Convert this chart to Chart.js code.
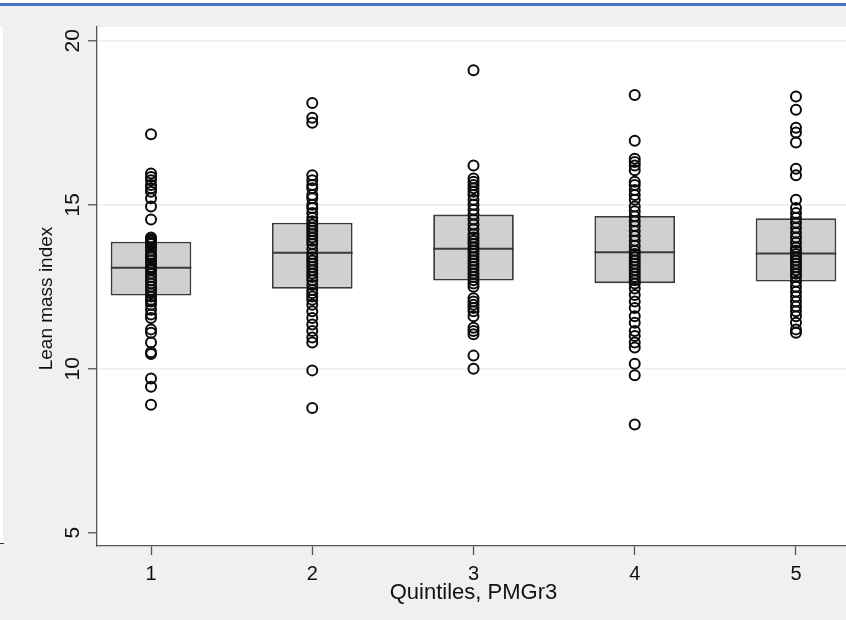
<!DOCTYPE html>
<html><head><meta charset="utf-8">
<script src="https://cdn.jsdelivr.net/npm/chart.js@4.4.1/dist/chart.umd.min.js"></script>
<style>
html,body{margin:0;padding:0;width:846px;height:620px;overflow:hidden;background:#f0f0f0;}
#topwhite{position:absolute;left:0;top:0;width:846px;height:3px;background:#fff;}
#topblue{position:absolute;left:0;top:3px;width:846px;height:3px;background:#4472c4;}
#leftstrip{position:absolute;left:0;top:27px;width:3px;height:516px;background:#fff;}
#lefttick{position:absolute;left:0;top:543px;width:4px;height:1px;background:#333;}
#wrap{position:absolute;left:0;top:0;width:870px;height:620px;}
</style></head>
<body>
<div id="topwhite"></div><div id="topblue"></div>
<div id="leftstrip"></div><div id="lefttick"></div>
<div id="wrap"><canvas id="c" width="870" height="620"></canvas></div>
<script>
// ---- data ----
const categories = [1, 2, 3, 4, 5];
const xTickLabels = ['1', '2', '3', '4', '5'];
const yTickValues = [5, 10, 15, 20];
const xTitle = 'Quintiles, PMGr3';
const yTitle = 'Lean mass index';

const q1Values     = [12.23, 12.44, 12.69, 12.61, 12.66];
const medianValues = [13.08, 13.54, 13.66, 13.55, 13.51];
const q3Values     = [13.87, 14.45, 14.70, 14.66, 14.59];

const group1 = [17.15, 15.95, 15.85, 15.75, 15.6, 15.5, 15.4, 15.2, 14.95, 14.55, 14.0, 13.95, 13.9, 13.85, 13.8, 13.7,
  13.6, 13.5, 13.45, 13.4, 13.3, 13.2, 13.1, 13.05, 13.0, 12.9, 12.8, 12.7, 12.6, 12.5, 12.4, 12.3, 12.2, 12.1, 12.05,
  11.95, 11.8, 11.65, 11.55, 11.2, 11.1, 10.8, 10.5, 10.45, 9.7, 9.45, 8.9];
const group2 = [18.1, 17.65, 17.5, 15.9, 15.75, 15.6, 15.5, 15.3, 15.2, 15.0, 14.9, 14.75, 14.6, 14.5, 14.4, 14.3, 14.2,
  14.1, 14.0, 13.9, 13.8, 13.65, 13.5, 13.4, 13.3, 13.2, 13.1, 13.0, 12.9, 12.8, 12.7, 12.55, 12.4, 12.3, 12.2, 12.1,
  11.95, 11.75, 11.55, 11.35, 11.15, 10.95, 10.8, 9.95, 8.8];
const group3 = [19.1, 16.2, 15.8, 15.7, 15.6, 15.5, 15.4, 15.3, 15.15, 15.0, 14.85, 14.7, 14.55, 14.4, 14.25, 14.1, 14.0,
  13.9, 13.8, 13.7, 13.6, 13.5, 13.4, 13.3, 13.2, 13.1, 13.0, 12.9, 12.8, 12.7, 12.6, 12.5, 12.15, 12.05, 11.95, 11.85,
  11.75, 11.6, 11.25, 11.15, 11.05, 10.4, 10.0];
const group4 = [18.35, 16.95, 16.4, 16.3, 16.2, 16.05, 15.7, 15.6, 15.45, 15.3, 15.15, 14.95, 14.8, 14.65, 14.5, 14.35,
  14.2, 14.05, 13.9, 13.75, 13.6, 13.5, 13.4, 13.3, 13.2, 13.1, 13.0, 12.9, 12.8, 12.7, 12.6, 12.45, 12.25, 12.05, 11.85,
  11.6, 11.4, 11.15, 11.0, 10.8, 10.65, 10.15, 9.8, 8.3];
const group5 = [18.3, 17.9, 17.35, 17.2, 16.9, 16.1, 15.9, 15.15, 14.9, 14.75, 14.6, 14.45, 14.3, 14.15, 14.0, 13.85,
  13.7, 13.6, 13.5, 13.4, 13.3, 13.2, 13.1, 13.0, 12.9, 12.8, 12.65, 12.5, 12.35, 12.2, 12.05, 11.9, 11.75, 11.6, 11.4,
  11.2, 11.1];
const groups = [group1, group2, group3, group4, group5];

// ---- build library data ----
const boxData = categories.map((c, i) => ({ x: c, y: [q1Values[i], q3Values[i]] }));
const pointData = [];
groups.forEach((g, i) => g.forEach(v => pointData.push({ x: categories[i], y: v })));

const FONT = "'Liberation Sans', Arial, sans-serif";
const AXIS_COLOR = '#555555';
const TEXT_COLOR = '#111111';

const plotBg = {
  id: 'plotBg',
  beforeDraw(chart) {
    const { ctx, chartArea: a } = chart;
    ctx.save();
    ctx.fillStyle = '#ffffff';
    ctx.fillRect(a.left, a.top, a.right - a.left, a.bottom - a.top);
    ctx.restore();
  }
};
const medianLines = {
  id: 'medianLines',
  afterDatasetDraw(chart, args) {
    if (args.index !== 0) return;
    const { ctx } = chart;
    const yScale = chart.scales.y;
    const meta = chart.getDatasetMeta(0);
    ctx.save();
    ctx.strokeStyle = '#3a3a3a';
    ctx.lineWidth = 2;
    meta.data.forEach((el, i) => {
      const y = yScale.getPixelForValue(medianValues[i]);
      ctx.beginPath();
      ctx.moveTo(el.x - el.width / 2, y);
      ctx.lineTo(el.x + el.width / 2, y);
      ctx.stroke();
    });
    ctx.restore();
  }
};
// y-axis title, placed like the reference (slightly below plot centre)
const yAxisTitle = {
  id: 'yAxisTitle',
  afterDraw(chart) {
    const { ctx, chartArea: a } = chart;
    ctx.save();
    ctx.translate(47, (a.top + a.bottom) / 2 + 12);
    ctx.rotate(-Math.PI / 2);
    ctx.font = "19px " + FONT;
    ctx.fillStyle = TEXT_COLOR;
    ctx.textAlign = 'center';
    ctx.textBaseline = 'middle';
    ctx.fillText(yTitle, 0, 0);
    ctx.restore();
  }
};

new Chart(document.getElementById('c'), {
  type: 'bar',
  data: {
    datasets: [
      {
        label: 'box',
        data: boxData,
        order: 2,
        backgroundColor: '#d0d0d0',
        borderColor: '#3a3a3a',
        borderWidth: 1.8,
        borderSkipped: false,
        categoryPercentage: 1,
        barPercentage: 0.5
      },
      {
        type: 'scatter',
        label: 'points',
        data: pointData,
        order: 1,
        pointStyle: 'circle',
        pointRadius: 5,
        pointBorderWidth: 2,
        pointBorderColor: '#0a0a0a',
        pointBackgroundColor: 'rgba(0,0,0,0)',
        showLine: false
      }
    ]
  },
  options: {
    responsive: false,
    devicePixelRatio: 1,
    animation: false,
    events: [],
    layout: { padding: { left: 0, top: 27, right: 20, bottom: 0 } },
    plugins: { legend: { display: false }, tooltip: { enabled: false } },
    scales: {
      x: {
        type: 'linear',
        min: 0.665,
        max: 5.335,
        offset: false,
        afterBuildTicks: (ax) => { ax.ticks = categories.map(v => ({ value: v })); },
        afterFit: (ax) => { ax.height = 74; },
        ticks: {
          callback: (v) => xTickLabels[categories.indexOf(v)],
          font: { family: FONT, size: 20 },
          color: TEXT_COLOR,
          padding: 7,
          maxRotation: 0,
          autoSkip: false
        },
        grid: { display: true, drawOnChartArea: false, offset: false, tickLength: 9, tickColor: AXIS_COLOR, tickWidth: 1.3 },
        border: { display: true, color: AXIS_COLOR, width: 1.3 },
        title: { display: true, text: xTitle, font: { family: FONT, size: 22 }, color: TEXT_COLOR, padding: { top: 0, bottom: 14 } }
      },
      y: {
        type: 'linear',
        min: 4.595,
        max: 20.42,
        afterBuildTicks: (ax) => { ax.ticks = yTickValues.map(v => ({ value: v })); },
        afterFit: (ax) => { ax.width = 97; },
        ticks: {
          callback: (v) => String(v),
          font: { family: FONT, size: 21 },
          color: TEXT_COLOR,
          padding: 3,
          minRotation: 90,
          maxRotation: 90,
          crossAlign: 'center',
          autoSkip: false
        },
        grid: {
          color: (c) => (c.tick && c.tick.value === 5 ? 'rgba(0,0,0,0)' : '#e8eef2'),
          lineWidth: 1.5,
          tickLength: 9,
          tickColor: AXIS_COLOR,
          tickWidth: 1.3
        },
        border: { display: true, color: AXIS_COLOR, width: 1.3 },
        title: { display: false }
      }
    }
  },
  plugins: [plotBg, medianLines, yAxisTitle]
});
</script>
</body></html>
